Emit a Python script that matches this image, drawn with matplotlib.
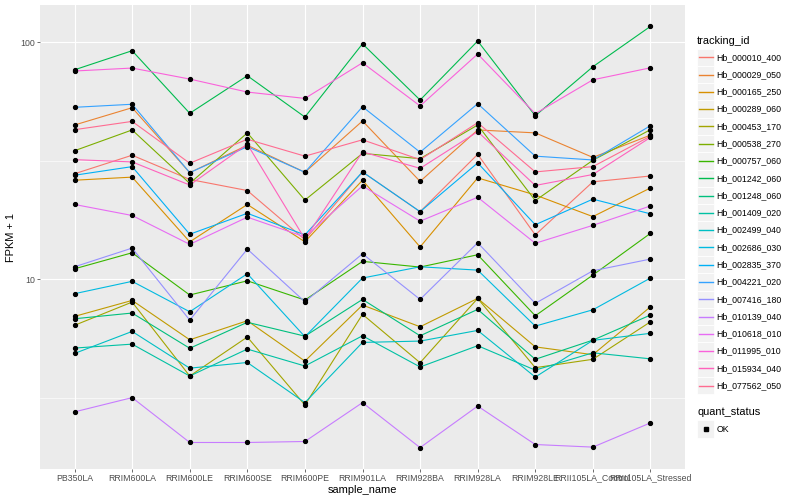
import numpy as np
import matplotlib
matplotlib.use("Agg")
import matplotlib.pyplot as plt
from matplotlib.patches import Rectangle
from matplotlib.lines import Line2D
from matplotlib.ticker import NullFormatter

plt.rcParams['font.family'] = ['Liberation Sans', 'DejaVu Sans']

# x categories
samples = ["PB350LA", "RRIM600LA", "RRIM600LE", "RRIM600SE", "RRIM600PE",
           "RRIM901LA", "RRIM928BA", "RRIM928LA", "RRIM928LE",
           "RRII105LA_Control", "RRII105LA_Stressed"]

tracking_ids = ["Hb_000010_400", "Hb_000029_050", "Hb_000165_250", "Hb_000289_060",
                "Hb_000453_170", "Hb_000538_270", "Hb_000757_060", "Hb_001242_060",
                "Hb_001248_060", "Hb_001409_020", "Hb_002499_040", "Hb_002686_030",
                "Hb_002835_370", "Hb_004221_020", "Hb_007416_180", "Hb_010139_040",
                "Hb_010618_010", "Hb_011995_010", "Hb_015934_040", "Hb_077562_050"]

# ggplot hue_pal()(20)
hue_colors = ["#F8766D", "#EA8331", "#D89000", "#C09B00", "#A3A500", "#7CAE00",
              "#39B600", "#00BB4E", "#00BF7D", "#00C1A3", "#00BFC4", "#00BAE0",
              "#00B0F6", "#35A2FF", "#9590FF", "#C77CFF", "#E76BF3", "#FA62DB",
              "#FF62BC", "#FF6C91"]

# FPKM + 1 per sample
Hb_000010_400 = [27.9, 33.4, 26.4, 23.7, 14.7, 28.4, 19.3, 33.7, 15.4, 25.8, 27.3]
Hb_000029_050 = [44.8, 53.0, 28.2, 36.8, 28.3, 46.6, 25.9, 42.7, 41.5, 32.7, 40.6]
Hb_000165_250 = [26.2, 27.0, 14.4, 20.7, 14.4, 26.2, 13.7, 26.8, 22.7, 18.4, 24.3]
Hb_000289_060 = [6.98, 8.15, 5.56, 6.69, 4.52, 7.79, 6.31, 8.31, 5.19, 4.81, 7.66]
Hb_000453_170 = [6.40, 8.02, 3.91, 5.71, 2.95, 7.12, 4.45, 8.31, 4.24, 4.60, 6.62]
Hb_000538_270 = [34.9, 42.7, 25.4, 41.5, 21.6, 34.0, 32.3, 44.8, 21.5, 31.8, 42.8]
Hb_000757_060 = [11.08, 12.95, 8.59, 9.86, 8.18, 11.91, 11.27, 12.70, 7.02, 10.43, 15.64]
Hb_001242_060 = [76.6, 92.2, 50.2, 72.3, 48.4, 98.6, 57.1, 101.3, 49.0, 78.9, 116.8]
Hb_001248_060 = [6.82, 7.21, 5.12, 6.59, 5.76, 8.23, 5.78, 7.47, 4.60, 5.54, 7.07]
Hb_001409_020 = [5.13, 5.33, 3.91, 5.08, 4.31, 5.78, 4.27, 5.25, 4.14, 4.90, 4.62]
Hb_002499_040 = [4.87, 6.03, 4.22, 4.46, 3.02, 5.42, 5.49, 6.09, 3.87, 5.53, 5.92]
Hb_002686_030 = [8.70, 9.81, 7.30, 10.56, 5.73, 10.13, 11.30, 10.94, 6.35, 7.44, 10.13]
Hb_002835_370 = [27.5, 29.9, 15.5, 19.0, 15.4, 28.4, 19.3, 31.0, 17.0, 21.8, 18.9]
Hb_004221_020 = [53.2, 54.8, 28.2, 36.3, 28.3, 53.5, 34.4, 55.1, 33.1, 31.9, 44.5]
Hb_007416_180 = [11.30, 13.55, 6.73, 13.42, 8.04, 12.82, 8.23, 14.27, 7.92, 10.87, 12.18]
Hb_010139_040 = [2.76, 3.17, 2.05, 2.05, 2.07, 3.02, 1.95, 2.92, 2.01, 1.96, 2.48]
Hb_010618_010 = [20.7, 18.6, 14.05, 18.3, 15.1, 24.8, 17.6, 22.2, 14.2, 16.9, 20.4]
Hb_011995_010 = [75.7, 77.9, 70.0, 61.7, 58.0, 82.0, 53.9, 89.3, 50.0, 69.5, 78.1]
Hb_015934_040 = [32.0, 31.3, 25.0, 37.2, 14.8, 34.5, 29.4, 42.0, 24.9, 27.7, 39.7]
Hb_077562_050 = [42.8, 46.4, 30.9, 39.0, 33.1, 38.8, 32.0, 45.8, 28.4, 29.9, 40.2]

series = [Hb_000010_400, Hb_000029_050, Hb_000165_250, Hb_000289_060, Hb_000453_170,
          Hb_000538_270, Hb_000757_060, Hb_001242_060, Hb_001248_060, Hb_001409_020,
          Hb_002499_040, Hb_002686_030, Hb_002835_370, Hb_004221_020, Hb_007416_180,
          Hb_010139_040, Hb_010618_010, Hb_011995_010, Hb_015934_040, Hb_077562_050]

W, H = 800, 500
def fx(px):
    return px / W
def fy(py):
    return 1 - py / H

fig = plt.figure(figsize=(8, 5), dpi=100)
ax = fig.add_axes([fx(40), fy(468.7), 645 / W, 463.4 / H])
ax.set_facecolor('#EBEBEB')

x = np.arange(len(samples))
for vals, col in zip(series, hue_colors):
    ax.plot(x, vals, color=col, lw=0.8, zorder=3)
for vals in series:
    ax.plot(x, vals, ls='none', marker='o', ms=2.8, color='black', zorder=4)

ax.set_yscale('log')
ax.set_xlim(-0.6, len(samples) - 0.4)
allv = np.log10(np.concatenate(series))
lo, hi = allv.min(), allv.max()
pad = 0.05 * (hi - lo)
ax.set_ylim(10 ** (lo - pad), 10 ** (hi + pad))

ax.set_yticks([10, 100])
ax.set_yticklabels(['10', '100'])
ax.set_yticks([10 ** 0.5, 10 ** 1.5], minor=True)
ax.yaxis.set_minor_formatter(NullFormatter())
ax.set_xticks(x)
ax.set_xticklabels(samples)

ax.grid(which='major', color='white', lw=0.85)
ax.grid(which='minor', axis='y', color='white', lw=0.45)
ax.set_axisbelow(True)
ax.tick_params(which='minor', length=0)
ax.tick_params(which='major', length=2.0, width=0.5, color='#333333',
               labelcolor='#4D4D4D', labelsize=6.3, pad=1.5)
for s in ax.spines.values():
    s.set_visible(False)

ax.set_xlabel('sample_name', fontsize=7.9, labelpad=2)
ax.set_ylabel('FPKM + 1', fontsize=7.9, labelpad=3)

# legend: tracking_id
fig.text(fx(697), fy(40.7), 'tracking_id', fontsize=7.9, va='center', ha='left')
key = 17.28
for i, (tid, col) in enumerate(zip(tracking_ids, hue_colors)):
    yc = 57.3 + key * i
    fig.add_artist(Rectangle((fx(697), fy(yc + key / 2)), key / W, key / H,
                             transform=fig.transFigure, facecolor='#F2F2F2',
                             edgecolor='white', lw=0.6, zorder=1))
    fig.add_artist(Line2D([fx(698.7), fx(712.6)], [fy(yc), fy(yc)],
                          transform=fig.transFigure, color=col, lw=1.0, zorder=2))
    fig.text(fx(716.7), fy(yc), tid, fontsize=6.3, va='center', ha='left')

# legend: quant_status
fig.text(fx(697), fy(412), 'quant_status', fontsize=7.9, va='center', ha='left')
fig.add_artist(Rectangle((fx(697), fy(429 + key / 2)), key / W, key / H,
                         transform=fig.transFigure, facecolor='#F2F2F2',
                         edgecolor='white', lw=0.6, zorder=1))
fig.add_artist(Line2D([fx(697 + key / 2)], [fy(429)], transform=fig.transFigure,
                      ls='none', marker='s', ms=2.6, color='black', zorder=2))
fig.text(fx(716.7), fy(429), 'OK', fontsize=6.3, va='center', ha='left')

fig.savefig('out.png', dpi=100)
